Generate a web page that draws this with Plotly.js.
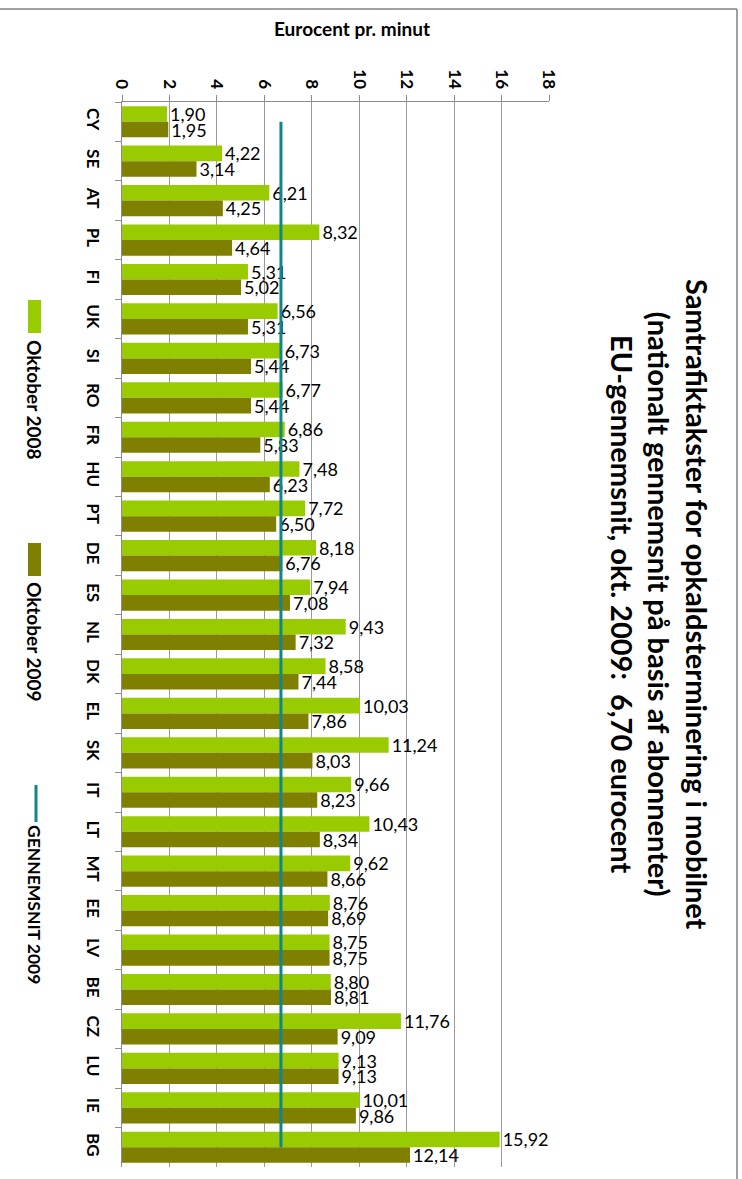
<!DOCTYPE html>
<html>
<head>
<meta charset="utf-8">
<script src="https://cdn.plot.ly/plotly-3.0.1.min.js"></script>
<style>
html,body{margin:0;padding:0;background:#fff;}
#chart{width:742px;height:1179px;}
</style>
</head>
<body>
<div id="chart"></div>
<script>
// ---- data ----
const countries = ["CY","SE","AT","PL","FI","UK","SI","RO","FR","HU","PT","DE","ES","NL","DK","EL","SK","IT","LT","MT","EE","LV","BE","CZ","LU","IE","BG"];
const okt2008 = [1.90,4.22,6.21,8.32,5.31,6.56,6.73,6.77,6.86,7.48,7.72,8.18,7.94,9.43,8.58,10.03,11.24,9.66,10.43,9.62,8.76,8.75,8.80,11.76,9.13,10.01,15.92];
const okt2009 = [1.95,3.14,4.25,4.64,5.02,5.31,5.44,5.44,5.83,6.23,6.50,6.76,7.08,7.32,7.44,7.86,8.03,8.23,8.34,8.66,8.69,8.75,8.81,9.09,9.13,9.86,12.14];
const euAverage2009 = 6.70;
const xTicks = [0,2,4,6,8,10,12,14,16,18];
const seriesNames = ["Oktober 2008","Oktober 2009","GENNEMSNIT 2009"];
const titleLines = ["Samtrafiktakster for opkaldsterminering i mobilnet","(nationalt gennemsnit på basis af abonnenter)","EU-gennemsnit, okt. 2009:  6,70 eurocent"];
const axisTitle = "Eurocent pr. minut";

// ---- layout geometry (pixels) ----
const W = 742, H = 1179;
const M = {l:122, r:193, t:102, b:12};
const pw = W - M.l - M.r, ph = H - M.t - M.b;
const px = X => (X - M.l) / pw;
const py = Y => (H - M.b - Y) / ph;

const FONT = "Lato, 'Noto Sans', sans-serif";
const GREEN = "#99cc00", OLIVE = "#808000", TEAL = "#10858a";

const traces = [
  {type:"bar", orientation:"h", name:seriesNames[0], y:countries, x:okt2008,
   marker:{color:GREEN}, texttemplate:"%{x:.2f}", textposition:"outside",
   constraintext:"none", cliponaxis:false,
   textfont:{family:FONT, size:18, color:"#000"}, hoverinfo:"x+y"},
  {type:"bar", orientation:"h", name:seriesNames[1], y:countries, x:okt2009,
   marker:{color:OLIVE}, texttemplate:"%{x:.2f}", textposition:"outside",
   constraintext:"none", cliponaxis:false,
   textfont:{family:FONT, size:18, color:"#000"}, hoverinfo:"x+y"},
  {type:"scatter", mode:"lines", name:seriesNames[2], y:countries,
   x:countries.map(()=>euAverage2009), line:{color:TEAL, width:3}, hoverinfo:"x"}
];

const shapes = [
  // chart-area border (top and right)
  {type:"line", xref:"paper", yref:"paper", x0:px(-2), x1:px(737), y0:py(9), y1:py(9), line:{color:"#808080", width:1.5}},
  {type:"line", xref:"paper", yref:"paper", x0:px(737), x1:px(737), y0:py(9), y1:py(H+2), line:{color:"#808080", width:1.5}},
  // legend swatches
  {type:"rect", xref:"paper", yref:"paper", x0:px(28), x1:px(41), y0:py(300), y1:py(333), fillcolor:GREEN, line:{width:0}},
  {type:"rect", xref:"paper", yref:"paper", x0:px(28), x1:px(41), y0:py(543), y1:py(576), fillcolor:OLIVE, line:{width:0}},
  {type:"line", xref:"paper", yref:"paper", x0:px(36), x1:px(36), y0:py(785), y1:py(822), line:{color:TEAL, width:3}}
];

const ann = (X, Y, text, size, angle) => ({
  xref:"paper", yref:"paper", x:px(X), y:py(Y), xanchor:"center", yanchor:"middle",
  text:text, textangle:angle, showarrow:false, align:"center",
  font:{family:FONT, size:size, color:"#000", weight:"bold"}
});
const annotations = [
  ann(660, 604, titleLines.join("<br>"), 29, 90),
  ann(352, 28, axisTitle, 19, 0),
  ann(35, 400, seriesNames[0], 19, 90),
  ann(35, 642, seriesNames[1], 19, 90),
  ann(35, 904, seriesNames[2], 17.5, 90)
];

const layout = {
  width:W, height:H, margin:M,
  paper_bgcolor:"#fff", plot_bgcolor:"#fff",
  separators:",.",
  barmode:"group", bargap:0.21, bargroupgap:0,
  showlegend:false,
  font:{family:FONT, color:"#000"},
  xaxis:{side:"top", range:[0,18], tickvals:xTicks, ticktext:xTicks.map(String),
    tickangle:90, ticks:"outside", ticklen:6, tickcolor:"#8c8c8c",
    showgrid:true, gridcolor:"#9a9a9a", gridwidth:1,
    showline:true, linecolor:"#8c8c8c", linewidth:1, zeroline:false,
    tickfont:{family:FONT, size:17, color:"#000", weight:"bold"}, fixedrange:true},
  yaxis:{type:"category", categoryorder:"array", categoryarray:countries,
    range:[countries.length-0.5, -0.5], autorange:false,
    tickangle:90, ticks:"outside", ticklen:6, tickcolor:"#8c8c8c", tickson:"boundaries",
    showgrid:false, showline:true, linecolor:"#8c8c8c", linewidth:1, zeroline:false,
    ticklabelstandoff:14,
    tickfont:{family:FONT, size:17, color:"#000", weight:"bold"}, fixedrange:true},
  shapes:shapes, annotations:annotations
};

Plotly.newPlot("chart", traces, layout, {displayModeBar:false, staticPlot:true});
</script>
</body>
</html>
